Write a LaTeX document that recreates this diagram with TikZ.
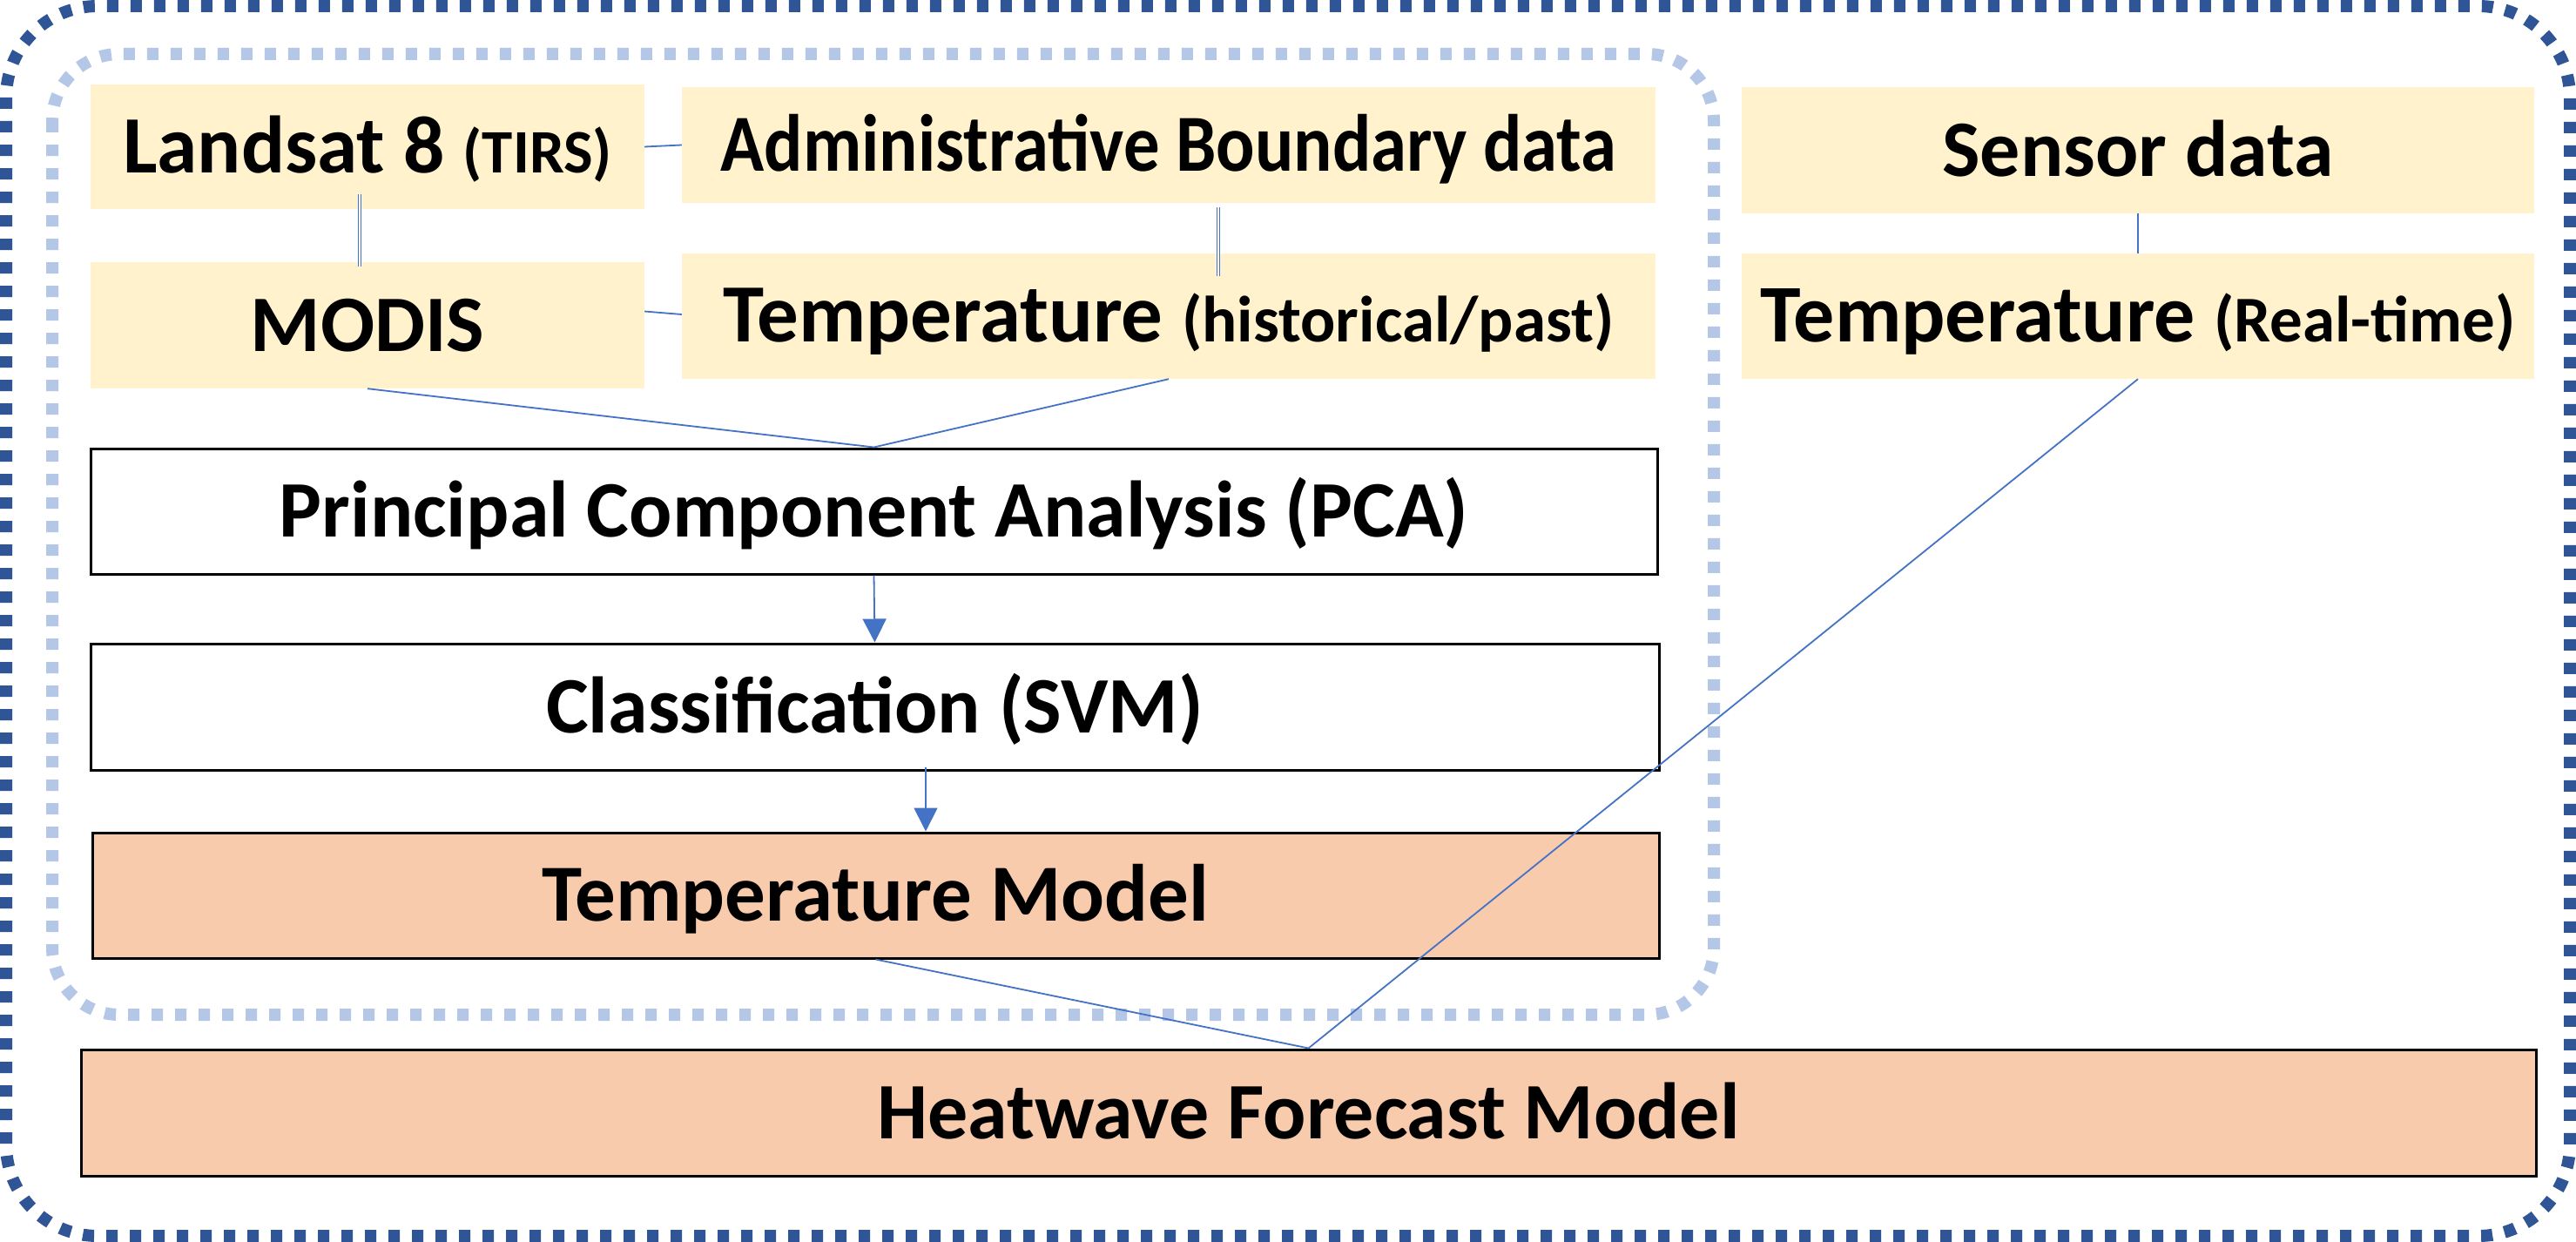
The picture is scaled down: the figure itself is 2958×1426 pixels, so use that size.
\documentclass[tikz,border=0pt]{standalone}
\usepackage{fontspec}
\usepackage{graphicx}
\setmainfont{Carlito}
\usetikzlibrary{arrows.meta}
\definecolor{ybox}{HTML}{FFF2CC}
\definecolor{pbox}{HTML}{F8CBAD}
\definecolor{outerc}{HTML}{2F5597}
\definecolor{innerc}{HTML}{B4C7E7}
\definecolor{connc}{HTML}{4472C4}
\newcommand{\fsz}[1]{\fontsize{#1}{#1}\selectfont\bfseries}
\begin{document}
\begin{tikzpicture}[x=1pt,y=-1pt,
  basebox/.style={rectangle, inner sep=0pt, text height=59pt, text depth=0pt, font=\fsz{92}, align=center},
  yelbox/.style={basebox, fill=ybox, draw=none},
  whbox/.style={basebox, fill=white, draw=black, line width=3pt},
  pchbox/.style={basebox, fill=pbox, draw=black, line width=3pt},
  conn/.style={draw=connc, line width=1.8pt},
  dbl/.style={draw=connc, line width=1.2pt, double=white, double distance=2.5pt},
  arr/.style={draw=connc, line width=1.8pt, -{Triangle[length=27pt,width=27pt]}},
  outerb/.style={draw=outerc, line width=14pt, dash pattern=on 13pt off 14pt, rounded corners=105pt},
  innerb/.style={draw=innerc, line width=14pt, dash pattern=on 13pt off 14pt, rounded corners=77pt}
]
\useasboundingbox (0,0) rectangle (2958,1426);
\fill[white] (0,0) rectangle (2958,1426);
\draw[outerb] (7,7) rectangle (2951,1419);
\draw[innerb] (60,62) rectangle (1968,1165);

\node[yelbox, minimum width=636pt, minimum height=143pt] (landsat) at (422,168.5) {\fsz{93.5}Landsat 8 {\fsz{71}(TIRS)}};
\node[yelbox, minimum width=1118pt, minimum height=133pt] (admin) at (1342,166.5) {\scalebox{0.89}[1]{\fsz{93}Administrative Boundary data}};
\node[yelbox, minimum width=636pt, minimum height=145pt] (modis) at (422,373.5) {MODIS};
\node[yelbox, minimum width=1118pt, minimum height=144pt] (temph) at (1342,363) {\fsz{95}Temperature {\fsz{75}(historical/past)}};
\node[yelbox, minimum width=910pt, minimum height=145pt] (sensor) at (2455,172.5) {Sensor data};
\node[yelbox, minimum width=910pt, minimum height=144pt] (temprt) at (2455,363) {\fsz{94}Temperature {\fsz{75}(Real-time)}};
\node[whbox, minimum width=1799pt, minimum height=144pt] (pca) at (1003.5,587) {Principal Component Analysis (PCA)};
\node[whbox, minimum width=1801pt, minimum height=145pt] (cls) at (1004.5,811.5) {Classification (SVM)};
\node[pchbox, minimum width=1799pt, minimum height=144pt] (tmodel) at (1005.5,1028) {\fsz{93}Temperature Model};
\node[pchbox, minimum width=2819pt, minimum height=145pt] (heat) at (1502.5,1277.5) {Heatwave Forecast Model};

\draw[conn] (landsat.east) -- (admin.west);
\draw[conn] ([yshift=16pt]modis.east) -- ([yshift=2pt]temph.west);
\draw[dbl] ([xshift=-9pt,yshift=17pt]landsat.south) -- ([xshift=-9pt,yshift=-5pt]modis.north);
\draw[dbl] ([xshift=57pt,yshift=-5pt]admin.south) -- ([xshift=57pt,yshift=-26pt]temph.north);
\draw[conn] (modis.south) -- (pca.north);
\draw[conn] (temph.south) -- (pca.north);
\draw[arr] (pca.south) -- (cls.north);
\draw[arr] ([xshift=58.5pt,yshift=5pt]cls.south) -- ([xshift=57.5pt]tmodel.north);
\draw[conn] (sensor.south) -- (temprt.north);
\draw[conn] (tmodel.south) -- (heat.north);
\draw[conn] (temprt.south) -- (heat.north);
\end{tikzpicture}
\end{document}
